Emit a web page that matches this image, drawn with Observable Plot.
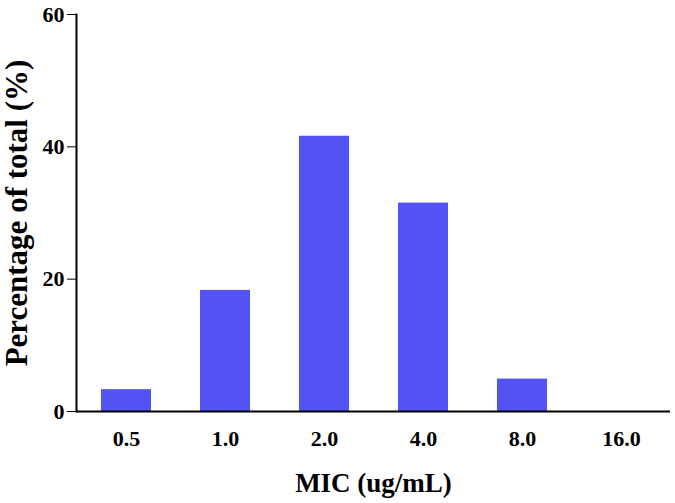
<!DOCTYPE html>
<html>
<head>
<meta charset="utf-8">
<script src="https://cdn.jsdelivr.net/npm/d3@7"></script>
<script src="https://cdn.jsdelivr.net/npm/@observablehq/plot@0.6"></script>
<style>
  html, body { margin: 0; padding: 0; background: #fff; }
  #chart svg { display: block; }
</style>
</head>
<body>
<div id="chart"></div>
<script>
const categories = ["0.5", "1.0", "2.0", "4.0", "8.0", "16.0"];
const percentages = [3.3, 18.3, 41.6, 31.5, 4.9, 0];
const yTicks = [0, 20, 40, 60];
const xTitle = "MIC (ug/mL)";
const yTitle = "Percentage of total (%)";
const barColor = "#5353F4";

const data = categories.map((c, i) => ({mic: c, pct: percentages[i]}));

const chart = Plot.plot({
  width: 675,
  height: 503,
  marginLeft: 76,
  marginRight: 5,
  marginTop: 14,
  marginBottom: 92,
  style: {fontFamily: "'Liberation Serif', 'Times New Roman', serif", fontWeight: "bold", fontSize: "22px", color: "#000", background: "#fff"},
  x: {domain: categories, paddingInner: 0.5, paddingOuter: 0.25, label: null},
  y: {domain: [0, 60], label: null},
  marks: [
    Plot.barY(data, {x: "mic", y: "pct", fill: barColor}),
    Plot.axisX({tickSize: 0, tickPadding: 19, fontSize: 22, label: xTitle, labelAnchor: "center", labelOffset: 80, labelArrow: "none"}),
    Plot.axisY({ticks: yTicks, tickSize: 9, tickPadding: 3, tickWidth: 2, fontSize: 22, label: yTitle, labelAnchor: "center", labelOffset: 72, labelArrow: "none"}),
    Plot.frame({anchor: "left", strokeWidth: 2}),
    Plot.ruleY([0], {strokeWidth: 2})
  ]
});

document.getElementById("chart").appendChild(chart);
const svg = d3.select(chart);
svg.selectAll('[aria-label="x-axis tick label"], [aria-label="x-axis tick label"] text, [aria-label="y-axis tick label"], [aria-label="y-axis tick label"] text').attr("font-size", 22).style("font-size", "22px");
svg.selectAll('[aria-label="x-axis label"], [aria-label="x-axis label"] text').attr("font-size", 27).style("font-size", "27px");
svg.selectAll('[aria-label="y-axis label"], [aria-label="y-axis label"] text').attr("font-size", 31).style("font-size", "31px");
</script>
</body>
</html>
